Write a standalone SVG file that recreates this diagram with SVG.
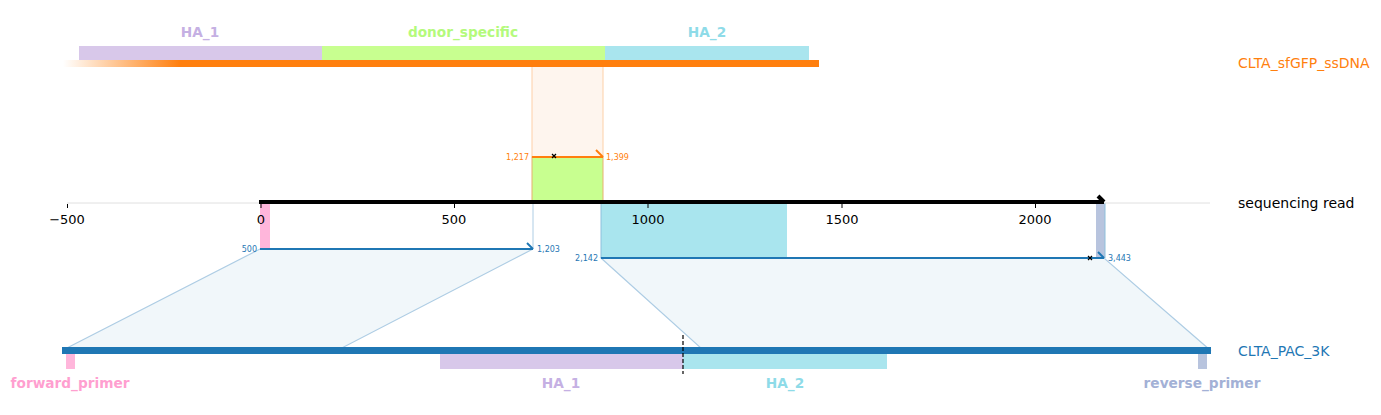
<svg xmlns="http://www.w3.org/2000/svg" width="1381" height="415" viewBox="0 0 1381 415">
<defs>
<linearGradient id="fade" x1="63" y1="0" x2="180" y2="0" gradientUnits="userSpaceOnUse">
<stop offset="0" stop-color="#ff7f0e" stop-opacity="0"/>
<stop offset="1" stop-color="#ff7f0e" stop-opacity="1"/>
</linearGradient>
</defs>
<style>
text{font-family:"DejaVu Sans",sans-serif}
.feat{font-size:13.7px;font-weight:bold;text-anchor:middle}
.tick{font-size:13px;text-anchor:middle;fill:#000}
.name{font-size:14px}
.pos{font-size:8px}
.trap{fill:#f1f7fa;stroke:#aecde4;stroke-width:1.2}
</style>
<rect width="1381" height="415" fill="#fff"/>
<g id="connectors">
<polygon class="trap" points="260,249 533,249 338,350 63,350"/>
<polygon class="trap" points="601,258 1104,258 1210,350 703,350"/>
<rect x="532" y="66" width="71" height="91" fill="#fef5ee" stroke="#fdd0a8" stroke-width="1"/>
<rect x="532" y="157" width="71" height="45" fill="#c8ff90" stroke="#e8b070" stroke-width="1"/>
<line x1="533" y1="203" x2="533" y2="249" stroke="#aecde4" stroke-width="1"/>
</g>
<g id="ssDNA">
<rect x="79" y="46" width="243" height="14" fill="#d8c8ea"/>
<rect x="322" y="46" width="283" height="14" fill="#c8ff90"/>
<rect x="605" y="46" width="204" height="14" fill="#a9e5ee"/>
<rect x="63" y="60" width="756" height="7" fill="url(#fade)"/>
<text class="feat" x="200" y="37" fill="#c5b0e3">HA_1</text>
<text class="feat" x="463" y="37" fill="#b4fa7c">donor_specific</text>
<text class="feat" x="707" y="37" fill="#8edbe8">HA_2</text>
<text class="name" x="1238" y="68" fill="#ff7f0e">CLTA_sfGFP_ssDNA</text>
</g>
<g id="ssDNA-alignment">
<line x1="532" y1="157" x2="603" y2="157" stroke="#ff7f0e" stroke-width="2"/>
<line x1="596" y1="150" x2="603" y2="157" stroke="#ff7f0e" stroke-width="2"/>
<path d="M552,154 l4,4 M556,154 l-4,4" stroke="#000" stroke-width="1.2"/>
<text class="pos" x="529" y="160" text-anchor="end" fill="#ff7f0e">1,217</text>
<text class="pos" x="606" y="160" fill="#ff7f0e">1,399</text>
</g>
<g id="read">
<rect x="260" y="203" width="10" height="46" fill="#ffb6db"/>
<rect x="601" y="203" width="186" height="55" fill="#a9e5ee"/>
<line x1="601" y1="203" x2="601" y2="258" stroke="#8ec0dc" stroke-width="1"/>
<rect x="1096" y="203" width="9" height="55" fill="#b8c4de"/>
<line x1="1105" y1="203" x2="1105" y2="258" stroke="#8ec0dc" stroke-width="1"/>
</g>
<g id="axis">
<line x1="67" y1="203" x2="1210" y2="203" stroke="#e0e0e0" stroke-width="1"/>
<g stroke="#000" stroke-width="1">
<line x1="67.5" y1="204" x2="67.5" y2="208"/>
<line x1="261" y1="204" x2="261" y2="208"/>
<line x1="454.5" y1="204" x2="454.5" y2="208"/>
<line x1="648" y1="204" x2="648" y2="208"/>
<line x1="842" y1="204" x2="842" y2="208"/>
<line x1="1035.5" y1="204" x2="1035.5" y2="208"/>
</g>
<text class="tick" x="67" y="224">−500</text>
<text class="tick" x="261" y="224">0</text>
<text class="tick" x="454" y="224">500</text>
<text class="tick" x="648" y="224">1000</text>
<text class="tick" x="842" y="224">1500</text>
<text class="tick" x="1035" y="224">2000</text>
</g>
<g id="read-bar">
<line x1="259" y1="202" x2="1104" y2="202" stroke="#000" stroke-width="4"/>
<line x1="1098" y1="196" x2="1104" y2="202" stroke="#000" stroke-width="4"/>
<text class="name" x="1238" y="208" fill="#000">sequencing read</text>
</g>
<g id="read-alignment">
<line x1="260" y1="249" x2="533" y2="249" stroke="#1f77b4" stroke-width="2"/>
<line x1="527" y1="243" x2="533" y2="249" stroke="#1f77b4" stroke-width="2"/>
<text class="pos" x="257" y="252" text-anchor="end" fill="#1f77b4">500</text>
<text class="pos" x="537" y="252" fill="#1f77b4">1,203</text>
<line x1="601" y1="258" x2="1104" y2="258" stroke="#1f77b4" stroke-width="2"/>
<line x1="1098" y1="252" x2="1104" y2="258" stroke="#1f77b4" stroke-width="2"/>
<path d="M1088,256 l4,4 M1092,256 l-4,4" stroke="#000" stroke-width="1.2"/>
<text class="pos" x="598" y="261" text-anchor="end" fill="#1f77b4">2,142</text>
<text class="pos" x="1108" y="261" fill="#1f77b4">3,443</text>
</g>
<g id="plasmid">
<rect x="62" y="347" width="1149" height="7" fill="#1f77b4"/>
<rect x="66" y="354" width="9" height="15" fill="#ffb6db"/>
<rect x="440" y="354" width="243" height="15" fill="#d8c8ea"/>
<rect x="683" y="354" width="204" height="15" fill="#a9e5ee"/>
<rect x="1198" y="354" width="9" height="15" fill="#b8c4de"/>
<line x1="683" y1="335" x2="683" y2="374" stroke="#000" stroke-width="1.2" stroke-dasharray="4,2"/>
<text class="feat" x="70" y="388" fill="#ff9fd0">forward_primer</text>
<text class="feat" x="561" y="388" fill="#c5b0e3">HA_1</text>
<text class="feat" x="785" y="388" fill="#8edbe8">HA_2</text>
<text class="feat" x="1202" y="388" fill="#a3b1d6">reverse_primer</text>
<text class="name" x="1238" y="356" fill="#1f77b4">CLTA_PAC_3K</text>
</g>
</svg>
